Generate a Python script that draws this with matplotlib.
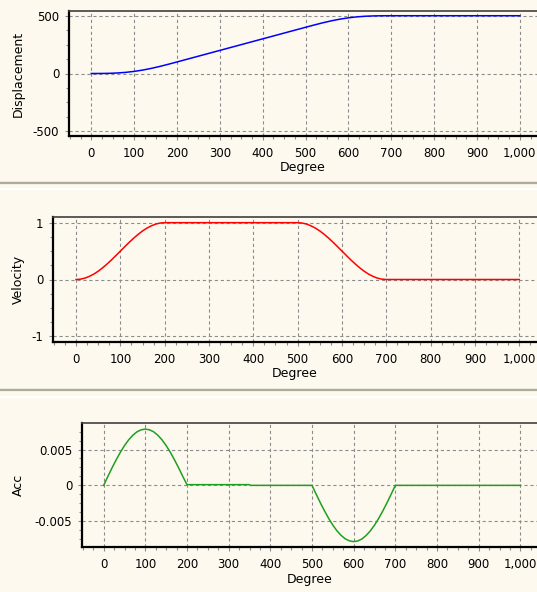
"""Cam motion profile: displacement, velocity and acceleration vs degree."""

import matplotlib

matplotlib.use("Agg")
import matplotlib.pyplot as plt
from matplotlib.lines import Line2D
from matplotlib.ticker import FuncFormatter, MultipleLocator

# values
disp_deg = [0, 20, 40, 60, 80, 100, 120, 140, 160, 180, 200, 300, 400, 500,
            520, 540, 560, 580, 600, 620, 640, 660, 680, 700, 1000]
disp_val = [0, 0.2, 1.3, 4.3, 9.7, 18.2, 29.7, 44.3, 61.3, 80.2, 100, 200, 300, 400,
            419.8, 438.7, 455.8, 470.3, 481.8, 490.3, 495.8, 498.7, 499.8, 500, 500]

vel_deg = [0, 10, 20, 30, 40, 50, 60, 70, 80, 90, 100, 110, 120, 130, 140, 150,
           160, 170, 180, 190, 200, 500,
           510, 520, 530, 540, 550, 560, 570, 580, 590, 600, 610, 620, 630, 640,
           650, 660, 670, 680, 690, 700, 1000]
vel_val = [0, 0.006, 0.024, 0.055, 0.095, 0.146, 0.206, 0.273, 0.345, 0.422, 0.5,
           0.578, 0.655, 0.727, 0.794, 0.854, 0.905, 0.945, 0.976, 0.994, 1, 1,
           0.994, 0.976, 0.945, 0.905, 0.854, 0.794, 0.727, 0.655, 0.578, 0.5,
           0.422, 0.345, 0.273, 0.206, 0.146, 0.095, 0.055, 0.024, 0.006, 0, 0]

acc_deg = [0, 10, 20, 30, 40, 50, 60, 70, 80, 90, 100, 110, 120, 130, 140, 150,
           160, 170, 180, 190, 200, 350, 352, 500,
           510, 520, 530, 540, 550, 560, 570, 580, 590, 600, 610, 620, 630, 640,
           650, 660, 670, 680, 690, 700, 1000]
acc_val = [0, 0.00123, 0.00243, 0.00356, 0.00461, 0.00555, 0.00635, 0.00699,
           0.00747, 0.00775, 0.00785, 0.00775, 0.00747, 0.00699, 0.00635,
           0.00555, 0.00461, 0.00356, 0.00243, 0.00123, 0.0001, 0.0001, 0, 0,
           -0.00123, -0.00243, -0.00356, -0.00461, -0.00555, -0.00635, -0.00699,
           -0.00747, -0.00775, -0.00785, -0.00775, -0.00747, -0.00699, -0.00635,
           -0.00555, -0.00461, -0.00356, -0.00243, -0.00123, 0, 0]

BG = "#fdf9ee"
W, H = 537, 592

plt.rcParams["font.family"] = ["DejaVu Sans"]
plt.rcParams["font.size"] = 8.5
plt.rcParams["lines.scale_dashes"] = False

fig = plt.figure(figsize=(W / 100, H / 100), dpi=100, facecolor=BG)

# (pixel left, pixel top, pixel bottom, ylabel, ylim, major, minor, x, y, colour)
panels = [
    (69, 11, 136, "Displacement", (-541, 541), 500, 125, disp_deg, disp_val, "#0000ff"),
    (53, 217, 342, "Velocity", (-1.1, 1.1), 1, 0.25, vel_deg, vel_val, "#ff0000"),
    (82, 423, 547, "Acc", (-0.0086, 0.0087), 0.005, 0.00125, acc_deg, acc_val, "#1f9f1f"),
]

def ytick_fmt(v, _):
    if abs(v) < 1e-12:
        return "0"
    return f"{v:g}"

for left, top, bottom, label, ylim, major, minor, xs, ys, color in panels:
    ax = fig.add_axes([left / W, 1 - bottom / H, (W - left) / W, (bottom - top) / H])
    ax.set_facecolor(BG)
    ax.plot(xs, ys, color=color, linewidth=1.1, zorder=3)
    ax.set_xlim(-52, 1040)
    ax.set_ylim(*ylim)

    ax.xaxis.set_major_locator(MultipleLocator(100))
    ax.xaxis.set_minor_locator(MultipleLocator(25))
    ax.xaxis.set_major_formatter(FuncFormatter(lambda v, _: f"{v:,.0f}"))
    ax.yaxis.set_major_locator(MultipleLocator(major))
    ax.yaxis.set_minor_locator(MultipleLocator(minor))
    ax.yaxis.set_major_formatter(FuncFormatter(ytick_fmt))

    ax.grid(True, which="major", color="#8c8c8c", linewidth=0.8,
            linestyle=(0, (2.3, 2.0)), zorder=1)
    ax.tick_params(which="major", direction="out", length=3, width=0.8,
                   color="#8c8c8c", pad=4, labelsize=8.5)
    ax.tick_params(which="minor", direction="out", length=2, width=0.8,
                   color="#8c8c8c")
    ax.tick_params(axis="x", which="major", pad=5)

    for side in ("left", "bottom"):
        ax.spines[side].set_linewidth(1.6)
        ax.spines[side].set_color("black")
    ax.spines["top"].set_linewidth(1.2)
    ax.spines["top"].set_color("#404040")
    ax.spines["right"].set_visible(False)

    ax.set_xlabel("Degree", fontsize=9, labelpad=1)
    ax.set_ylabel(label, fontsize=9)
    ax.yaxis.label.set_va("center")
    ax.yaxis.set_label_coords(18.5 / W, 1 - (top + bottom) / 2 / H,
                              transform=fig.transFigure)

# gray dividers between the three panels
for y_dark, y_white in ((182.5, 189), (389.5, 397)):
    for y, c, lw in ((y_dark - 1, "#c9c6b8", 1.0), (y_dark + 0.5, "#aeab9d", 1.6),
                     (y_white, "#ffffff", 1.6)):
        fig.add_artist(Line2D([0, 1], [1 - y / H, 1 - y / H], color=c,
                              linewidth=lw, transform=fig.transFigure))

fig.savefig("out.png", dpi=100, facecolor=BG)
